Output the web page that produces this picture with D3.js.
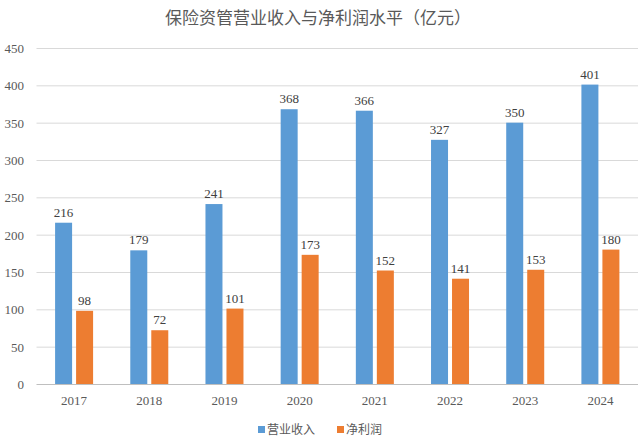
<!DOCTYPE html><html><head><meta charset="utf-8"><script src="https://cdn.jsdelivr.net/npm/d3@7"></script>
<style>body{margin:0;background:#fff}</style></head><body><svg id="c" width="640" height="446"></svg>
<script>
const years=["2017","2018","2019","2020","2021","2022","2023","2024"];
const revenue=[216,179,241,368,366,327,350,401];
const profit=[98,72,101,173,152,141,153,180];
const yTicks=[0,50,100,150,200,250,300,350,400,450];
const seriesNames=["营业收入","净利润"];
const colors=["#5b9bd5","#ed7d31"];
const svg=d3.select("#c");
const x=d3.scaleBand().domain(years).range([36.5,638]);
const y=d3.scaleLinear().domain([0,450]).range([384,48]);
const serif="'Liberation Serif','DejaVu Serif',serif";
svg.append("text").attr("x",318).attr("y",24).attr("text-anchor","middle").attr("font-family","'Noto Sans CJK SC'").attr("font-size",17).attr("fill","#595959").text("保险资管营业收入与净利润水平（亿元）");
svg.selectAll(".g").data(yTicks).enter().append("line").attr("x1",36.5).attr("x2",638).attr("y1",d=>y(d)+.5).attr("y2",d=>y(d)+.5).attr("stroke",d=>d===0?"#bfbfbf":"#d9d9d9");
svg.selectAll(".yl").data(yTicks).enter().append("text").attr("x",24).attr("y",d=>y(d)+5).attr("text-anchor","end").attr("font-family",serif).attr("font-size",13).attr("fill","#595959").text(d=>d);
svg.selectAll(".xl").data(years).enter().append("text").attr("x",d=>x(d)+x.bandwidth()/2).attr("y",405).attr("text-anchor","middle").attr("font-family",serif).attr("font-size",13).attr("fill","#595959").text(d=>d);
[revenue,profit].forEach((vals,s)=>{
 const off=s===0?-19:2;
 const g=svg.append("g");
 g.selectAll("rect").data(vals).enter().append("rect").attr("x",(d,i)=>x(years[i])+x.bandwidth()/2+off).attr("width",17).attr("y",d=>y(d)).attr("height",d=>y(0)-y(d)).attr("fill",colors[s]);
 g.selectAll("text").data(vals).enter().append("text").attr("x",(d,i)=>x(years[i])+x.bandwidth()/2+off+8.5).attr("y",d=>y(d)-6).attr("text-anchor","middle").attr("font-family",serif).attr("font-size",13).attr("fill","#404040").text(d=>d);
});
const lx=[258,337];
seriesNames.forEach((n,i)=>{
 svg.append("rect").attr("x",lx[i]).attr("y",426).attr("width",7).attr("height",7).attr("fill",colors[i]);
 svg.append("text").attr("x",lx[i]+9).attr("y",434).attr("font-family","'Noto Sans CJK SC'").attr("font-size",12).attr("fill","#595959").text(n);
});
</script></body></html>
